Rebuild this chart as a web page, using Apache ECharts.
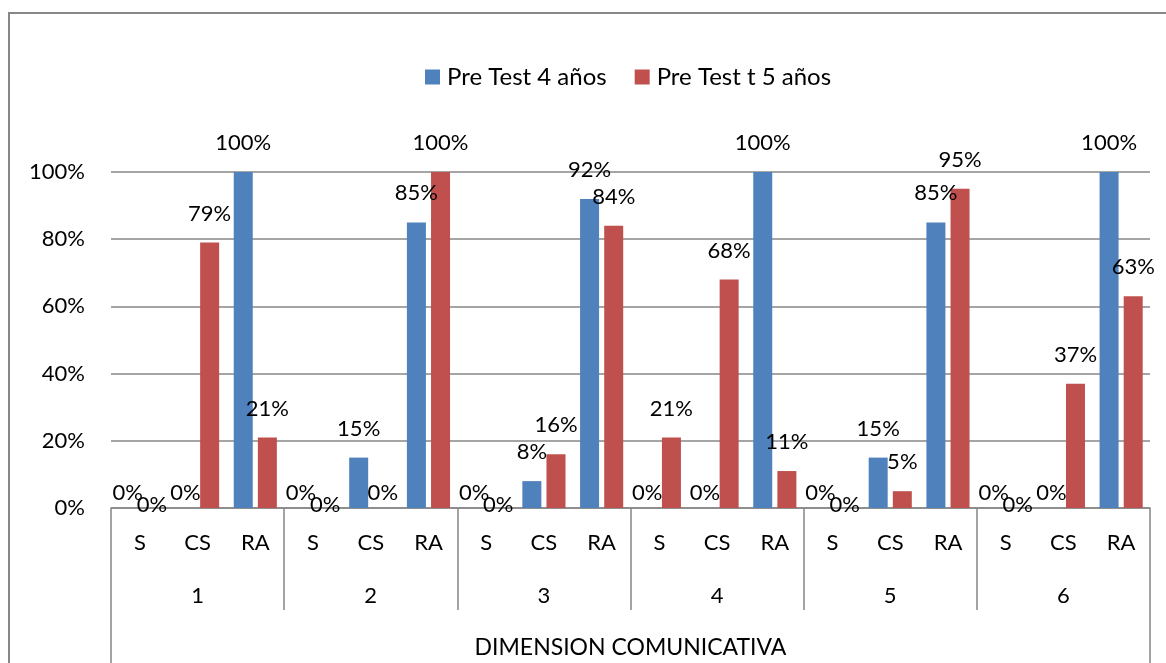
<!DOCTYPE html>
<html>
<head>
<meta charset="utf-8">
<script src="https://cdn.jsdelivr.net/npm/echarts@6/dist/echarts.min.js"></script>
<style>
  html, body { margin: 0; padding: 0; background: #fff; }
  #frame {
    position: absolute; left: 8px; top: 12px; width: 1200px; height: 700px;
    border-top: 2px solid #878787; border-left: 2px solid #878787;
  }
  #main { position: absolute; left: 0; top: 0; width: 1166px; height: 663px; }
</style>
</head>
<body>
<div id="frame"></div>
<div id="main"></div>
<script>
// datos
const categories = ["S", "CS", "RA", "S", "CS", "RA", "S", "CS", "RA",
                    "S", "CS", "RA", "S", "CS", "RA", "S", "CS", "RA"];
const groups = ["1", "2", "3", "4", "5", "6"];
const dimension = ["DIMENSION COMUNICATIVA"];
const legendNames = ["Pre Test 4 años", "Pre Test t 5 años"];
const preTest4 = [0, 0, 100, 0, 15, 85, 0, 8, 92, 0, 0, 100, 0, 15, 85, 0, 0, 100];
const preTest5 = [0, 79, 21, 0, 0, 100, 0, 16, 84, 21, 68, 11, 0, 5, 95, 0, 37, 63];
const yTicks = [0, 20, 40, 60, 80, 100];

const FONT = "Lato";
const lineColor = "#878787";

// etiquetas de valor cero: más abajo, como en Excel
function items(values, other, lower) {
  return values.map((v, i) => {
    if (v !== 0) return v;
    return {
      value: v,
      label: { distance: 4, offset: [0, lower && other[i] === 0 ? 12 : 0] }
    };
  });
}

const chart = echarts.init(document.getElementById("main"));

chart.setOption({
  animation: false,
  backgroundColor: "transparent",
  textStyle: { fontFamily: FONT },
  legend: {
    top: 60,
    left: 420,
    itemWidth: 15,
    itemHeight: 15,
    itemGap: 28,
    icon: "rect",
    textStyle: { fontFamily: FONT, fontSize: 24, color: "#000", padding: [0, 0, 0, 2] },
    data: legendNames
  },
  grid: { left: 111, right: 16, top: 172, bottom: 155 },
  xAxis: [
    {
      type: "category",
      data: categories,
      axisLine: { lineStyle: { color: lineColor, width: 1.5 } },
      axisTick: { show: false },
      axisLabel: { margin: 24, fontSize: 22, color: "#000", fontFamily: FONT, interval: 0 }
    },
    {
      type: "category",
      data: groups,
      position: "bottom",
      axisLine: { show: false },
      axisTick: { show: true, length: 102, lineStyle: { color: lineColor, width: 1.5 } },
      axisLabel: { margin: 77, fontSize: 22, color: "#000", fontFamily: FONT, interval: 0 }
    },
    {
      type: "category",
      data: dimension,
      position: "bottom",
      axisLine: { show: false },
      axisTick: { show: true, length: 170, lineStyle: { color: lineColor, width: 1.5 } },
      axisLabel: { margin: 128, fontSize: 23, color: "#000", fontFamily: FONT }
    }
  ],
  yAxis: {
    type: "value",
    min: yTicks[0],
    max: yTicks[yTicks.length - 1],
    interval: yTicks[1] - yTicks[0],
    axisLine: { show: false },
    axisTick: { show: false },
    splitLine: { lineStyle: { color: lineColor, width: 1.5 } },
    axisLabel: { formatter: "{value}%", margin: 26, fontSize: 22, color: "#000", fontFamily: FONT }
  },
  series: [
    {
      name: legendNames[0],
      type: "bar",
      xAxisIndex: 0,
      barWidth: 19,
      barGap: "27%",
      itemStyle: { color: "#4F81BD" },
      label: {
        show: true, position: "top", distance: 18, formatter: "{c}%",
        fontSize: 22, color: "#000", fontFamily: FONT
      },
      data: items(preTest4, preTest5, false)
    },
    {
      name: legendNames[1],
      type: "bar",
      xAxisIndex: 0,
      barWidth: 19,
      barGap: "27%",
      itemStyle: { color: "#C0504D" },
      label: {
        show: true, position: "top", distance: 18, formatter: "{c}%",
        fontSize: 22, color: "#000", fontFamily: FONT
      },
      data: items(preTest5, preTest4, true)
    }
  ]
});
</script>
</body>
</html>
